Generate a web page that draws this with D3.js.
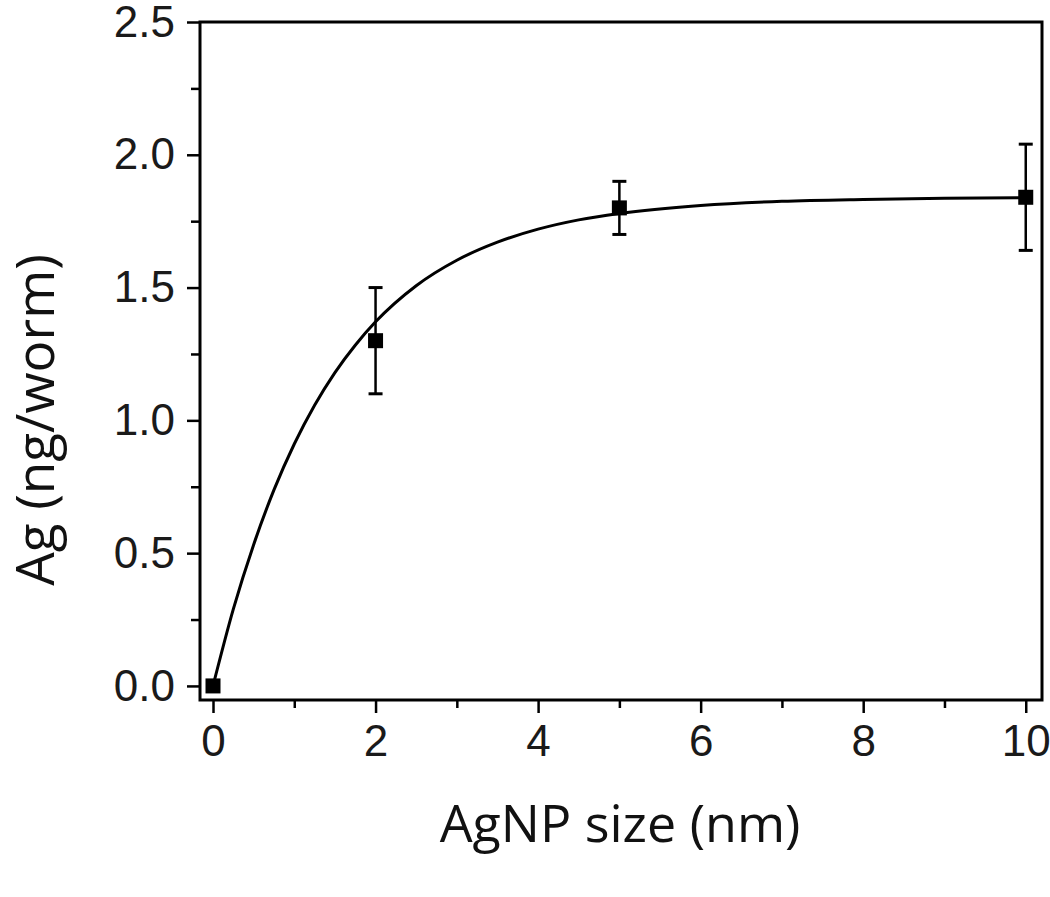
<head><script src="https://d3js.org/d3.v7.min.js"></script></head>

<body style="margin:0;background:#fff">
  <svg id="chart" width="1050" height="897"></svg>

  <script>
    // measured points (AgNP size in nm, Ag in ng/worm, error)
    var sizes = [0, 2, 5, 10];
    var agValues = [0.0, 1.30, 1.80, 1.84];
    var agErrors = [0.0, 0.20, 0.10, 0.20];

    // fitted curve
    var curveX = [0, 0.25, 0.5, 0.75, 1, 1.25, 1.5, 1.75, 2, 2.5, 3, 3.5, 4, 4.5, 5, 6, 7, 8, 9, 10];
    var curveY = [0, 0.289, 0.532, 0.738, 0.911, 1.057, 1.180, 1.283, 1.371, 1.507, 1.603, 1.671, 1.720, 1.755, 1.779, 1.809, 1.825, 1.832, 1.836, 1.838];

    var xTicks = [0, 2, 4, 6, 8, 10];
    var yTicks = [0.0, 0.5, 1.0, 1.5, 2.0, 2.5];

    var svg = d3.select("#chart");

    // plot box edges
    var pLeft = 200, pRight = 1042, pTop = 22, pBottom = 700;

    var x = d3.scaleLinear().domain([-0.16, 10.2]).range([pLeft, pRight]);
    var y = d3.scaleLinear().domain([-0.053, 2.5]).range([pBottom, pTop]);

    // minor ticks
    var xMinor = [1, 3, 5, 7, 9];
    var yMinor = [0.25, 0.75, 1.25, 1.75, 2.25];

    svg.append("g").attr("transform", "translate(0," + pBottom + ")")
      .call(d3.axisBottom(x).tickValues(xMinor).tickSize(8).tickFormat(""))
      .call(function(g){ g.select(".domain").remove(); });
    svg.append("g").attr("transform", "translate(" + pLeft + ",0)")
      .call(d3.axisLeft(y).tickValues(yMinor).tickSize(9).tickFormat(""))
      .call(function(g){ g.select(".domain").remove(); });

    var xAxis = svg.append("g").attr("class", "axis").attr("transform", "translate(0," + pBottom + ")")
      .call(d3.axisBottom(x).tickValues(xTicks).tickSize(13).tickPadding(12).tickFormat(d3.format("d")));
    xAxis.select(".domain").remove();

    var yAxis = svg.append("g").attr("class", "axis").attr("transform", "translate(" + pLeft + ",0)")
      .call(d3.axisLeft(y).tickValues(yTicks).tickSize(13).tickPadding(12).tickFormat(d3.format(".1f")));
    yAxis.select(".domain").remove();

    svg.selectAll(".tick line").attr("stroke", "#000").attr("stroke-width", 2.5);
    svg.selectAll(".axis text").attr("fill", "#1a1a1a")
      .style("font-family", "'Liberation Sans', Arial, sans-serif").style("font-size", "44px");

    // frame
    svg.append("rect").attr("x", pLeft).attr("y", pTop)
      .attr("width", pRight - pLeft).attr("height", pBottom - pTop)
      .attr("fill", "none").attr("stroke", "#000").attr("stroke-width", 3);

    // fit curve
    var line = d3.line()
      .x(function(d, i){ return x(curveX[i]); })
      .y(function(d){ return y(d); })
      .curve(d3.curveMonotoneX);
    svg.append("path").datum(curveY).attr("d", line)
      .attr("fill", "none").attr("stroke", "#000").attr("stroke-width", 3);

    // error bars
    var capW = 7;
    sizes.forEach(function(s, i){
      if (agErrors[i] === 0) return;
      var cx = x(s), y1 = y(agValues[i] + agErrors[i]), y2 = y(agValues[i] - agErrors[i]);
      svg.append("line").attr("x1", cx).attr("x2", cx).attr("y1", y1).attr("y2", y2)
        .attr("stroke", "#000").attr("stroke-width", 2.5);
      [y1, y2].forEach(function(yy){
        svg.append("line").attr("x1", cx - capW).attr("x2", cx + capW).attr("y1", yy).attr("y2", yy)
          .attr("stroke", "#000").attr("stroke-width", 3);
      });
    });

    // square markers
    var half = 7.5;
    svg.selectAll(".pt").data(sizes).enter().append("rect")
      .attr("class", "pt")
      .attr("x", function(d){ return x(d) - half; })
      .attr("y", function(d, i){ return y(agValues[i]) - half; })
      .attr("width", half * 2).attr("height", half * 2)
      .attr("fill", "#000");

    // axis titles
    svg.append("text").attr("x", 620).attr("y", 842)
      .attr("text-anchor", "middle")
      .style("font-family", "'Open Sans', sans-serif").style("font-size", "52px")
      .attr("fill", "#111")
      .text("AgNP size (nm)");

    svg.append("text")
      .attr("transform", "translate(54,420) rotate(-90)")
      .attr("text-anchor", "middle")
      .style("font-family", "'Open Sans', sans-serif").style("font-size", "53px")
      .attr("fill", "#111")
      .text("Ag (ng/worm)");
  </script>
</body>
